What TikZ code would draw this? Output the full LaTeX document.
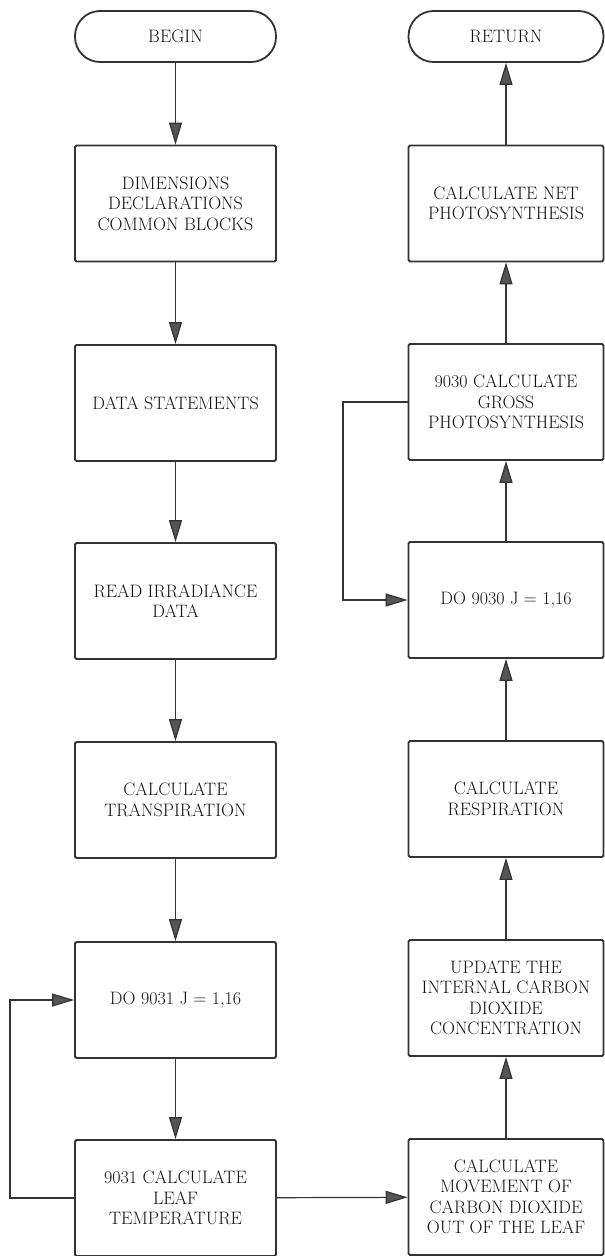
\documentclass[tikz,border=0pt]{standalone}
\usepackage{fontspec}
\usetikzlibrary{arrows.meta}
\definecolor{ink}{HTML}{333333}
\definecolor{txt}{HTML}{111111}
\definecolor{tipc}{HTML}{555555}
\newcommand{\boxfont}{\fontsize{18}{20.5}\selectfont\addfontfeatures{LetterSpace=6,FakeBold=1.2}}
\begin{document}
\begin{tikzpicture}[x=1pt,y=-1pt,
  every node/.style={font=\boxfont, text=txt, align=center},
  lbox/.style={draw=ink, line width=1.8pt, rounded corners=1.5pt, minimum width=201pt, minimum height=116pt, inner sep=0pt},
  rbox/.style={draw=ink, line width=1.8pt, rounded corners=1.5pt, minimum width=195pt, minimum height=116pt, inner sep=0pt},
  term/.style={draw=ink, line width=1.8pt, rounded corners=25pt, minimum height=51pt, inner sep=0pt},
  flow/.style={draw=ink, line width=1.2pt, -{Triangle[length=22pt,width=13pt,fill=tipc]}}
]
\useasboundingbox (0,0) rectangle (605,1256);
% left column
\node[term, minimum width=201pt] (begin) at (175.5,36.5) {BEGIN};
\node[lbox] (dim) at (175.5,203.5) {DIMENSIONS\\DECLARATIONS\\COMMON BLOCKS};
\node[lbox] (data) at (175.5,403) {DATA STATEMENTS};
\node[lbox] (read) at (175.5,601) {READ IRRADIANCE\\DATA};
\node[lbox] (trans) at (175.5,800) {CALCULATE\\TRANSPIRATION};
\node[lbox] (do31) at (175.5,1000) {DO 9031 J = 1,16};
\node[lbox] (leaf) at (175.5,1198) {9031 CALCULATE\\LEAF\\TEMPERATURE};
% right column
\node[term, minimum width=195pt] (ret) at (506,36.5) {RETURN};
\node[rbox] (net) at (506,203.5) {CALCULATE NET\\PHOTOSYNTHESIS};
\node[rbox] (gross) at (506,402) {9030 CALCULATE\\GROSS\\PHOTOSYNTHESIS};
\node[rbox] (do30) at (506,600) {DO 9030 J = 1,16};
\node[rbox] (resp) at (506,799) {CALCULATE\\RESPIRATION};
\node[rbox] (upd) at (506,998) {UPDATE THE\\INTERNAL CARBON\\DIOXIDE\\CONCENTRATION};
\node[rbox] (move) at (506,1197) {CALCULATE\\MOVEMENT OF\\CARBON DIOXIDE\\OUT OF THE LEAF};
% loop corner points
\coordinate (l1) at (10,1198);
\coordinate (l2) at (10,1000);
\coordinate (r1) at (343,402);
\coordinate (r2) at (343,600);
% connectors
\draw[flow] (begin) -- (dim);
\draw[flow] (dim) -- (data);
\draw[flow] (data) -- (read);
\draw[flow] (read) -- (trans);
\draw[flow] (trans) -- (do31);
\draw[flow] (do31) -- (leaf);
\draw[flow] (leaf.west) -- (l1) -- (l2) -- (do31.west);
\draw[flow] (leaf) -- (move);
\draw[flow] (move) -- (upd);
\draw[flow] (upd) -- (resp);
\draw[flow] (resp) -- (do30);
\draw[flow] (gross.west) -- (r1) -- (r2) -- (do30.west);
\draw[flow] (do30) -- (gross);
\draw[flow] (gross) -- (net);
\draw[flow] (net) -- (ret);
\end{tikzpicture}
\end{document}
